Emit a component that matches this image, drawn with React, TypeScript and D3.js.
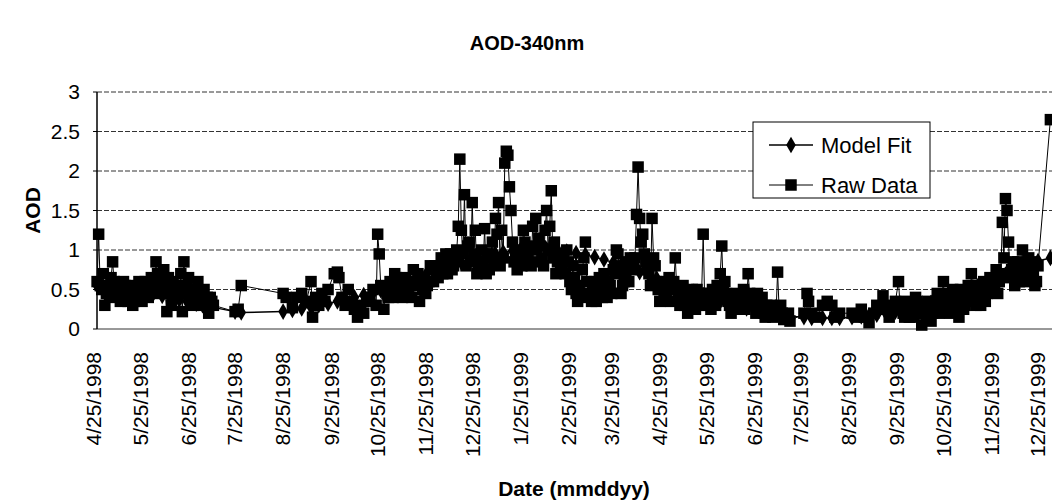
import React from "react";
import * as d3 from "d3";

const TITLE = "AOD-340nm";
const X_TITLE = "Date (mmddyy)";
const Y_TITLE = "AOD";
const START_DATE = "4/25/1998";

const xTickLabels = [
  "4/25/1998", "5/25/1998", "6/25/1998", "7/25/1998", "8/25/1998", "9/25/1998",
  "10/25/1998", "11/25/1998", "12/25/1998", "1/25/1999", "2/25/1999", "3/25/1999",
  "4/25/1999", "5/25/1999", "6/25/1999", "7/25/1999", "8/25/1999", "9/25/1999",
  "10/25/1999", "11/25/1999", "12/25/1999",
];
const yTicks = [0, 0.5, 1, 1.5, 2, 2.5, 3];
const yTickLabels = ["0", "0.5", "1", "1.5", "2", "2.5", "3"];

// Raw data: days after 4/25/1998 and AOD values
const rawDay = [
  2, 3, 4, 5, 6, 7, 8, 9, 10, 12, 13, 14, 16, 18, 20, 22, 24, 26, 28, 30,
  32, 34, 36, 38, 40, 41, 43, 44, 46, 47, 49, 51, 53, 55, 57, 58, 60, 62, 64, 66, 68, 70, 72, 74, 75, 77,
  91, 93, 95,
  122, 124, 128, 131, 134, 137, 140, 141, 143, 145, 147, 149, 151, 155, 157, 158, 160, 162,
  164, 166, 168, 170, 172, 174, 176, 178, 180, 182, 183, 184, 185, 187,
  188, 190, 192, 194, 196, 198, 200, 202, 204, 206, 208, 210, 212, 214,
  216, 218, 220, 222, 224, 226, 228, 230, 232, 234, 235, 236, 237, 239, 241, 243, 244, 246, 248,
  250, 252, 254, 255, 257, 259, 261, 263, 264, 265, 266, 267, 268, 269, 270, 272, 273, 275,
  277, 279, 281, 283, 285, 287, 289, 291, 292, 294, 295, 297, 299, 301, 303, 305,
  307, 309, 311, 313, 315, 317, 319, 321, 323, 325, 327, 329, 331, 333,
  335, 337, 338, 340, 342, 344, 346, 348, 350, 351, 352, 353, 354, 356, 358, 360, 361, 363, 365,
  367, 369, 371, 373, 375, 377, 379, 381, 383, 385, 387, 389, 391, 393, 394,
  396, 398, 400, 402, 404, 405, 407, 409, 411, 413, 415, 417, 419, 421, 422, 424, 426,
  428, 430, 432, 434, 436, 438, 440, 441, 443, 445, 447, 449,
  458, 460, 461, 463, 466, 470, 473, 476, 478, 481,
  489, 492, 495, 497, 500, 503, 505, 507, 509, 511, 513, 515, 517, 519, 520,
  522, 524, 526, 528, 530, 532, 534, 536, 538, 540, 542, 544, 546, 548,
  550, 552, 554, 556, 558, 560, 562, 564, 566, 568, 570, 572, 574, 576, 578,
  580, 582, 584, 586, 587, 588, 589, 590, 592, 594, 596, 598, 599, 601, 603, 605, 607, 609, 617,
];
const rawAOD = [
  0.6, 1.2, 0.55, 0.5, 0.7, 0.3, 0.45, 0.5, 0.4, 0.85, 0.6, 0.5, 0.45, 0.4, 0.55, 0.35, 0.5, 0.35, 0.4, 0.45,
  0.5, 0.45, 0.5, 0.55, 0.85, 0.7, 0.6, 0.6, 0.45, 0.22, 0.5, 0.6, 0.4, 0.45, 0.22, 0.85, 0.55, 0.45, 0.3, 0.5, 0.4, 0.45, 0.35, 0.2, 0.4, 0.3,
  0.22, 0.25, 0.55,
  0.45, 0.4, 0.27, 0.4, 0.45, 0.35, 0.6, 0.15, 0.4, 0.3, 0.45, 0.35, 0.5, 0.7, 0.72, 0.65, 0.4, 0.3,
  0.5, 0.35, 0.25, 0.15, 0.3, 0.2, 0.4, 0.35, 0.5, 0.3, 1.2, 0.95, 0.55, 0.25,
  0.5, 0.4, 0.55, 0.7, 0.45, 0.5, 0.6, 0.45, 0.55, 0.75, 0.6, 0.35, 0.5, 0.45,
  0.6, 0.75, 0.8, 0.65, 0.9, 0.85, 0.7, 0.95, 0.8, 1.0, 1.3, 2.15, 1.25, 1.7, 1.05, 0.85, 1.6, 1.25, 0.8,
  1.0, 1.27, 0.95, 0.75, 1.1, 1.4, 1.6, 1.25, 0.9, 2.1, 2.25, 2.2, 1.8, 1.5, 1.1, 0.9, 0.75, 0.95,
  1.25, 0.85, 1.05, 1.3, 1.4, 1.15, 0.9, 1.25, 1.5, 1.3, 1.75, 1.1, 0.85, 0.75, 0.9, 1.0,
  0.6, 0.8, 0.45, 0.55, 0.75, 1.1, 0.4, 0.35, 0.6, 0.45, 0.5, 0.7, 0.4, 0.55,
  0.75, 1.0, 0.95, 0.45, 0.6, 0.85, 0.9, 0.8, 1.45, 2.05, 1.4, 1.1, 1.2, 0.85, 0.7, 1.4, 0.9, 0.6, 0.35,
  0.55, 0.45, 0.65, 0.5, 0.9, 0.4, 0.45, 0.3, 0.2, 0.4, 0.35, 0.5, 0.3, 1.2, 0.35,
  0.45, 0.25, 0.4, 0.55, 0.7, 1.05, 0.6, 0.35, 0.2, 0.3, 0.45, 0.3, 0.5, 0.35, 0.7, 0.4, 0.3,
  0.45, 0.35, 0.2, 0.3, 0.25, 0.15, 0.2, 0.72, 0.3, 0.12, 0.15, 0.1,
  0.2, 0.45, 0.35, 0.2, 0.15, 0.3, 0.35, 0.3, 0.15, 0.2,
  0.2, 0.15, 0.25, 0.15, 0.08, 0.2, 0.3, 0.25, 0.42, 0.3, 0.15, 0.25, 0.35, 0.6, 0.3,
  0.2, 0.35, 0.15, 0.25, 0.4, 0.3, 0.05, 0.2, 0.35, 0.1, 0.3, 0.45, 0.25, 0.6,
  0.35, 0.2, 0.5, 0.4, 0.15, 0.45, 0.3, 0.55, 0.7, 0.4, 0.55, 0.3, 0.6, 0.45, 0.65,
  0.5, 0.75, 0.6, 1.35, 0.9, 1.65, 1.5, 1.1, 0.75, 0.55, 0.85, 0.7, 1.0, 0.6, 0.9, 0.85, 0.55, 0.8, 2.65,
];

// Further raw observations read from the dense clusters
const rawDayMore = [
  11, 15, 17, 19, 21, 23, 25, 27, 29, 31, 33, 35, 37, 39, 42, 45, 48, 50, 52, 54, 56, 59, 61, 63, 65, 67, 69, 71, 73, 76,
  189, 191, 193, 195, 197, 199, 201, 203, 205, 207, 209, 211, 213, 215, 217, 219, 221, 223, 225, 227, 229, 231, 233,
  238, 240, 242, 245, 247, 249, 251, 253, 256, 258, 260, 262, 271, 274, 276, 278, 280, 282, 284, 286, 288, 290,
  293, 296, 298, 300, 302, 304, 306,
  308, 310, 312, 314, 316, 318, 320, 322, 324, 326, 328, 330, 332, 334, 336, 339, 341, 343, 345, 347, 349,
  355, 357, 359, 362, 364, 366, 368, 370, 372, 374, 376, 378, 380, 382, 384, 386, 388, 390, 392, 395, 397, 399,
  401, 403, 406, 408, 410, 412, 414, 416, 418, 420, 423, 425, 427, 429, 431, 433, 435, 437, 439, 442, 444, 446, 448,
  521, 523, 525, 527, 529, 531, 533, 535, 537, 539, 541, 543, 545, 547, 549, 551, 553, 555, 557, 559, 561, 563,
  565, 567, 569, 571, 573, 575, 577, 579, 581, 583, 585, 591, 593, 595, 597, 600, 602, 604, 606, 608,
];
const rawAODMore = [
  0.65, 0.55, 0.35, 0.6, 0.45, 0.55, 0.3, 0.5, 0.6, 0.35, 0.6, 0.4, 0.65, 0.45, 0.5, 0.75, 0.65, 0.3, 0.45, 0.55, 0.7, 0.5, 0.65, 0.35, 0.45, 0.6, 0.3, 0.5, 0.4, 0.35,
  0.45, 0.6, 0.4, 0.65, 0.55, 0.4, 0.65, 0.5, 0.4, 0.55, 0.7, 0.6, 0.65, 0.55, 0.8, 0.6, 0.7, 0.8, 0.7, 0.95, 0.85, 0.75, 0.9,
  0.95, 0.8, 1.1, 0.95, 0.7, 0.85, 0.8, 0.7, 0.95, 0.85, 1.2, 0.8, 0.85, 1.0, 0.8, 1.1, 0.95, 0.8, 1.0, 0.85, 1.05, 0.8,
  1.0, 0.9, 0.7, 0.95, 0.8, 0.7, 0.85,
  0.5, 0.65, 0.35, 0.45, 0.9, 0.6, 0.45, 0.5, 0.35, 0.65, 0.4, 0.55, 0.6, 0.45, 0.7, 0.8, 0.55, 0.7, 0.6, 0.75, 0.9,
  0.95, 0.75, 0.55, 0.8, 0.5, 0.6, 0.4, 0.55, 0.35, 0.6, 0.5, 0.3, 0.55, 0.4, 0.35, 0.5, 0.25, 0.4, 0.45, 0.3, 0.35, 0.5,
  0.3, 0.45, 0.5, 0.45, 0.3, 0.4, 0.25, 0.35, 0.4, 0.25, 0.45, 0.35, 0.2, 0.3, 0.4, 0.15, 0.25, 0.3, 0.2, 0.25, 0.2, 0.15, 0.2,
  0.25, 0.15, 0.3, 0.2, 0.15, 0.35, 0.2, 0.3, 0.15, 0.25, 0.2, 0.35, 0.2, 0.4, 0.25, 0.45, 0.3, 0.25, 0.35, 0.5, 0.25, 0.4,
  0.35, 0.5, 0.3, 0.45, 0.55, 0.35, 0.5, 0.6, 0.55, 0.45, 0.7, 0.65, 0.85, 0.7, 0.6, 0.75, 0.8, 0.65, 0.7, 0.6,
];

// Model fit: days after 4/25/1998 and AOD values
const fitDay = [
  2, 8, 14, 20, 26, 32, 38, 44, 49, 55, 60, 66, 70, 75, 91, 95, 122, 128, 134, 140, 145, 151, 157, 162,
  168, 174, 180, 185, 190, 196, 202, 208, 214, 220, 226, 232, 237, 243, 248, 254, 259, 264, 270, 275,
  281, 287, 292, 299, 305, 311, 317, 323, 329, 335, 340, 346, 352, 358, 363, 369, 375, 381, 387, 393,
  398, 404, 409, 415, 421, 426, 432, 438, 443, 449, 458, 463, 470, 476, 481, 489, 495, 500, 505, 511,
  517, 522, 528, 534, 540, 546, 552, 558, 564, 570, 576, 582, 588, 594, 599, 605, 609, 617,
];
const fitAOD = [
  0.55, 0.54, 0.52, 0.5, 0.48, 0.46, 0.44, 0.42, 0.4, 0.37, 0.35, 0.32, 0.3, 0.28, 0.22, 0.21, 0.22, 0.24, 0.26, 0.28, 0.3, 0.32, 0.35, 0.37,
  0.4, 0.43, 0.46, 0.49, 0.52, 0.56, 0.6, 0.64, 0.68, 0.73, 0.77, 0.81, 0.84, 0.87, 0.9, 0.93, 0.95, 0.97, 0.99, 1.0,
  1.01, 1.01, 1.01, 1.0, 0.98, 0.96, 0.94, 0.91, 0.88, 0.84, 0.8, 0.76, 0.72, 0.68, 0.64, 0.6, 0.56, 0.51, 0.47, 0.43,
  0.39, 0.35, 0.32, 0.29, 0.26, 0.24, 0.21, 0.19, 0.17, 0.16, 0.15, 0.14, 0.14, 0.14, 0.14, 0.15, 0.16, 0.17, 0.18, 0.2,
  0.22, 0.24, 0.27, 0.3, 0.33, 0.37, 0.41, 0.45, 0.49, 0.54, 0.59, 0.64, 0.69, 0.74, 0.78, 0.83, 0.86, 0.9,
];

const legendItems = ["Model Fit", "Raw Data"];

const W = 1052;
const H = 503;
const FONT = "'Liberation Sans', Arial, Helvetica, sans-serif";

function parseMDY(s: string): Date {
  const [m, d, y] = s.split("/").map(Number);
  return new Date(Date.UTC(y, m - 1, d));
}

export default function App() {
  const start = parseMDY(START_DATE);
  const end = parseMDY(xTickLabels[xTickLabels.length - 1]);
  const x = d3.scaleUtc().domain([start, end]).range([94, 1038]);
  const y = d3.scaleLinear().domain([0, 3]).range([329, 92]);
  const dayX = (d: number) => x(d3.utcDay.offset(start, d));

  const axisX = 97;
  const rawAll = rawDay
    .map((d, i) => ({ d, v: rawAOD[i] }))
    .concat(rawDayMore.map((d, i) => ({ d, v: rawAODMore[i] })))
    .sort((a, b) => a.d - b.d);
  const raw = rawAll.map((p) => ({ x: dayX(p.d), y: y(p.v) }));
  const fit = fitDay.map((d, i) => ({ x: dayX(d), y: y(fitAOD[i]) }));
  const line = d3
    .line<{ x: number; y: number }>()
    .x((p) => p.x)
    .y((p) => p.y);

  const sq = 11.5;
  const diamond = d3.symbol().type(d3.symbolDiamond).size(80)();

  const legX = 753;
  const legY = 122;
  const legW = 177;
  const legH = 76;

  return (
    <svg
      width={W}
      height={H}
      style={{ position: "absolute", left: 0, top: 0, background: "#fff" }}
      fontFamily={FONT}
    >
      <rect x={0} y={0} width={W} height={H} fill="#fff" />
      <defs>
        <clipPath id="plotClip">
          <rect x={axisX - 8} y={60} width={W} height={290} />
        </clipPath>
      </defs>
      <text x={527} y={50} textAnchor="middle" fontSize={20} fontWeight="bold">
        {TITLE}
      </text>

      {yTicks.map((t) => (
        <line
          key={"g" + t}
          x1={axisX}
          x2={W}
          y1={y(t)}
          y2={y(t)}
          stroke="#333"
          strokeWidth={1}
          strokeDasharray={t === 0 ? "none" : "5,2"}
        />
      ))}

      <line x1={axisX} x2={axisX} y1={y(3)} y2={y(0)} stroke="#000" strokeWidth={1.5} />
      {yTicks.map((t, i) => (
        <g key={"yt" + t}>
          <line x1={axisX - 4} x2={axisX} y1={y(t)} y2={y(t)} stroke="#000" />
          <text x={80} y={y(t)} dy="0.35em" textAnchor="end" fontSize={21}>
            {yTickLabels[i]}
          </text>
        </g>
      ))}
      <text
        transform={`translate(33,${(y(0) + y(3)) / 2}) rotate(-90)`}
        textAnchor="middle"
        dy="0.35em"
        fontSize={21}
        fontWeight="bold"
      >
        {Y_TITLE}
      </text>

      {xTickLabels.map((lab) => {
        const px = x(parseMDY(lab));
        return (
          <text
            key={lab}
            transform={`translate(${px},352) rotate(-90)`}
            textAnchor="end"
            dy="0.35em"
            fontSize={21}
          >
            {lab}
          </text>
        );
      })}
      <text x={574} y={496} textAnchor="middle" fontSize={21} fontWeight="bold">
        {X_TITLE}
      </text>

      <g clipPath="url(#plotClip)">
        <path d={line(fit) || ""} fill="none" stroke="#000" strokeWidth={1.5} />
        {fit.map((p, i) => (
          <path key={"f" + i} d={diamond || ""} transform={`translate(${p.x},${p.y})`} fill="#000" />
        ))}
        <path d={line(raw) || ""} fill="none" stroke="#000" strokeWidth={1} />
        {raw.map((p, i) => (
          <rect key={"r" + i} x={p.x - sq / 2} y={p.y - sq / 2} width={sq} height={sq} fill="#000" />
        ))}
      </g>

      <rect x={legX} y={legY} width={legW} height={legH} fill="#fff" stroke="#000" strokeWidth={1} />
      {legendItems.map((lab, i) => {
        const ly = legY + 23 + i * 40;
        return (
          <g key={lab}>
            <line x1={legX + 16} x2={legX + 60} y1={ly} y2={ly} stroke="#000" strokeWidth={i === 0 ? 1.5 : 1} />
            {i === 0 ? (
              <path d={diamond || ""} transform={`translate(${legX + 38},${ly})`} fill="#000" />
            ) : (
              <rect x={legX + 38 - sq / 2} y={ly - sq / 2} width={sq} height={sq} fill="#000" />
            )}
            <text x={legX + 68} y={ly} dy="0.35em" fontSize={22}>
              {lab}
            </text>
          </g>
        );
      })}
    </svg>
  );
}
